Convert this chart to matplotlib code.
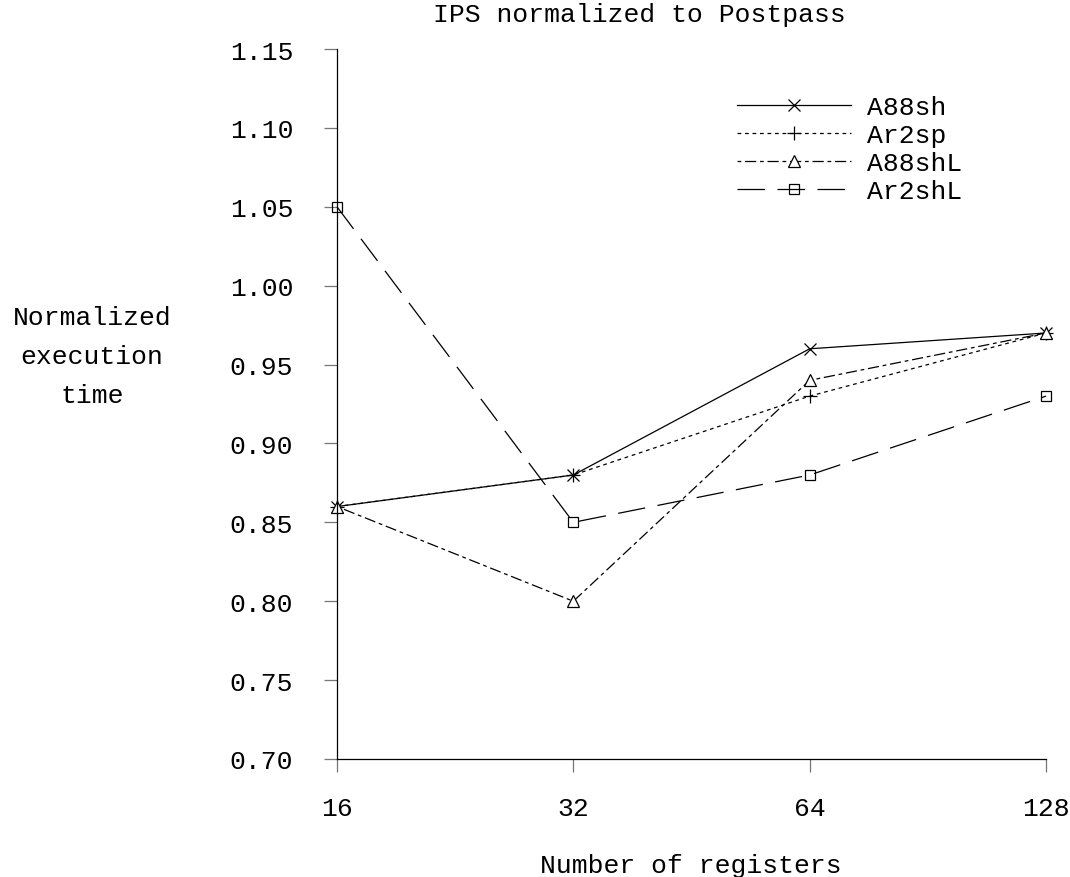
import matplotlib
matplotlib.use("Agg")
import matplotlib.pyplot as plt

plt.rcParams['font.family'] = ['Liberation Mono', 'DejaVu Sans Mono']

registers = ['16', '32', '64', '128']
a88sh = [0.86, 0.88, 0.96, 0.97]
ar2sp = [0.86, 0.88, 0.93, 0.97]
a88shl = [0.86, 0.80, 0.94, 0.97]
ar2shl = [1.05, 0.85, 0.88, 0.93]
yticks = [0.70, 0.75, 0.80, 0.85, 0.90, 0.95, 1.00, 1.05, 1.10, 1.15]

fs = 19

fig = plt.figure(figsize=(10.7, 8.78), dpi=100)
ax = fig.add_axes([337/1070, 118/878, (1046-337)/1070, (760-50)/878])

x = list(range(len(registers)))
lw = 0.9
ax.plot(x, a88sh, color='black', lw=lw, ls='-', marker='x', ms=9, mew=0.9,
        mfc='none', label='A88sh', clip_on=False)
ax.plot(x, ar2sp, color='black', lw=lw, dashes=(3, 3), marker='+', ms=10, mew=0.9,
        label='Ar2sp', clip_on=False)
ax.plot(x, a88shl, color='black', lw=lw, dashes=(3, 3, 9, 3), marker='^', ms=8,
        mew=0.9, mfc='white', label='A88shL', clip_on=False)
ax.plot(x, ar2shl, color='black', lw=lw, dashes=(22, 10), marker='s', ms=7,
        mew=0.9, mfc='none', label='Ar2shL', clip_on=False)

ax.set_xlim(0, 3)
ax.set_ylim(0.70, 1.15)
ax.set_xticks(x)
ax.set_xticklabels(registers)
ax.set_yticks(yticks)
ax.set_yticklabels(['%.2f' % v for v in yticks])
ax.tick_params(direction='out', length=9.5, width=0.9, labelsize=fs,
               color='#777777')
ax.tick_params(axis='y', pad=22)
ax.tick_params(axis='x', pad=17)
for s in ['top', 'right']:
    ax.spines[s].set_visible(False)
for s in ['left', 'bottom']:
    ax.spines[s].set_linewidth(0.9)

fig.text(639/1070, 1 - 15/878, 'IPS normalized to Postpass', ha='center',
         va='center', fontsize=fs)
fig.text(691/1070, 1 - 866/878, 'Number of registers', ha='center',
         va='center', fontsize=fs)
fig.text(92/1070, 1 - 357/878, 'Normalized\nexecution\ntime', ha='center',
         va='center', fontsize=fs, linespacing=1.8)

ax.legend(loc='upper left', bbox_to_anchor=(719/1070, 1 - 78/878),
          bbox_transform=fig.transFigure, frameon=False, fontsize=fs,
          handlelength=4.3, handletextpad=0.6, labelspacing=0.15, numpoints=1,
          borderpad=0.2)

fig.savefig('out.png', dpi=100)
